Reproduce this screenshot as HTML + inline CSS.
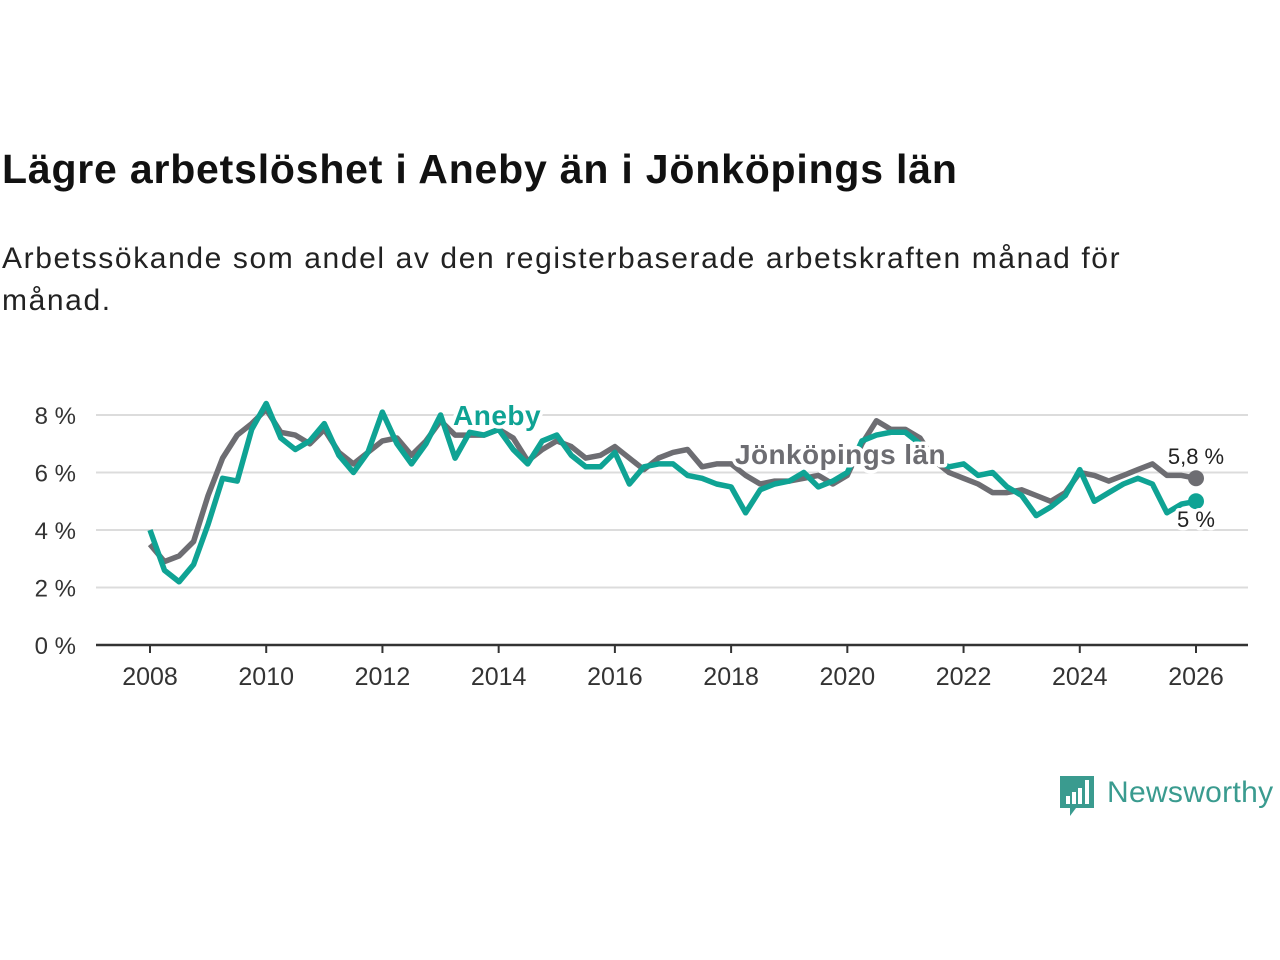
<!DOCTYPE html>
<html><head><meta charset="utf-8"><style>
body{margin:0;width:1280px;height:960px;background:#fff;font-family:"Liberation Sans",sans-serif;overflow:hidden;position:relative}
#title{position:absolute;left:2px;top:146px;font-size:41px;font-weight:bold;color:#111;letter-spacing:0.8px}
#sub{position:absolute;left:2px;top:238px;font-size:30px;line-height:42px;color:#222;width:1180px;letter-spacing:1.6px}
svg{position:absolute;left:0;top:0}
</style></head><body>
<div id="title">Lägre arbetslöshet i Aneby än i Jönköpings län</div>
<div id="sub">Arbetssökande som andel av den registerbaserade arbetskraften månad för månad.</div>
<svg id="chart" width="1280" height="960"></svg>
<script>
const yearTicks=[2008,2010,2012,2014,2016,2018,2020,2022,2024,2026];
const yTicks=[0,2,4,6,8];
const startYear=2008, step=0.25;
const jonkoping=[3.5,2.9,3.1,3.6,5.2,6.5,7.3,7.7,8.2,7.4,7.3,7.0,7.5,6.7,6.3,6.7,7.1,7.2,6.6,7.1,7.8,7.3,7.3,7.3,7.5,7.2,6.4,6.8,7.1,6.9,6.5,6.6,6.9,6.5,6.1,6.5,6.7,6.8,6.2,6.3,6.3,5.9,5.6,5.7,5.7,5.8,5.9,5.6,5.9,7.0,7.8,7.5,7.5,7.2,6.4,6.0,5.8,5.6,5.3,5.3,5.4,5.2,5.0,5.3,6.0,5.9,5.7,5.9,6.1,6.3,5.9,5.9,5.8];
const aneby=[4.0,2.6,2.2,2.8,4.2,5.8,5.7,7.5,8.4,7.2,6.8,7.1,7.7,6.6,6.0,6.7,8.1,7.0,6.3,7.0,8.0,6.5,7.4,7.3,7.5,6.8,6.3,7.1,7.3,6.6,6.2,6.2,6.7,5.6,6.2,6.3,6.3,5.9,5.8,5.6,5.5,4.6,5.4,5.6,5.7,6.0,5.5,5.7,6.0,7.1,7.3,7.4,7.4,7.0,6.4,6.2,6.3,5.9,6.0,5.5,5.2,4.5,4.8,5.2,6.1,5.0,5.3,5.6,5.8,5.6,4.6,4.9,5.0];
const NS="http://www.w3.org/2000/svg";
const svg=document.getElementById('chart');
const X=t=>150+(t-2008)*(1046/18);
const Y=v=>645-v*28.75;
function mk(tag,attrs){const e=document.createElementNS(NS,tag);for(const k in attrs)e.setAttribute(k,attrs[k]);svg.appendChild(e);return e;}
yTicks.forEach(v=>{
  if(v>0){const g=mk('line',{x1:96,x2:1248,y1:Y(v),y2:Y(v),stroke:'#dcdcdc','stroke-width':2});
  
  }
  const t=mk('text',{x:76,y:Y(v)+9,'text-anchor':'end','font-size':24,fill:'#333'});t.textContent=v+' %';
  
  
});
const ax=mk('line',{x1:96,x2:1248,y1:645,y2:645,stroke:'#333','stroke-width':2.5});


yearTicks.forEach(y=>{
  const tk=mk('line',{x1:X(y),x2:X(y),y1:645,y2:653,stroke:'#333','stroke-width':2});
  
  
  const t=mk('text',{x:X(y),y:685,'text-anchor':'middle','font-size':25,fill:'#333'});t.textContent=y;
  
  
});
function pts(a){return a.map((v,i)=>X(startYear+i*step).toFixed(1)+','+Y(v).toFixed(1)).join(' ');}
const lj=mk('polyline',{points:pts(jonkoping),fill:'none',stroke:'#6d6d72','stroke-width':5.5,'stroke-linejoin':'round'});


const la=mk('polyline',{points:pts(aneby),fill:'none',stroke:'#0fa394','stroke-width':5.5,'stroke-linejoin':'round'});


const lastI=aneby.length-1, lastX=X(startYear+lastI*step);
const dj=mk('circle',{cx:lastX,cy:Y(jonkoping[lastI]),r:8,fill:'#6d6d72'});


const da=mk('circle',{cx:lastX,cy:Y(aneby[lastI]),r:8,fill:'#0fa394'});


function lab(txt,x,y,fill,size,bold,anchor,name,ls){
  const t=mk('text',{x:x,y:y,'font-size':size,'font-weight':bold?'bold':'normal',fill:fill,stroke:'#fff','stroke-width':7,'paint-order':'stroke','stroke-linejoin':'round','text-anchor':anchor,'letter-spacing':ls||0});
  t.textContent=txt;
  
  
}
lab('Aneby',453,425,'#0fa394',28,true,'start','aneby-label',0.5);
lab('Jönköpings län',735,464,'#6d6d72',28,true,'start','jonkoping-label',0.4);
lab(String(jonkoping[lastI]).replace('.',',')+' %',lastX,464,'#222',22,false,'middle','jonkoping-end-value');
lab(String(aneby[lastI]).replace('.',',')+' %',lastX,527,'#222',22,false,'middle','aneby-end-value');
const lg=mk('g',{});


mk('path',{d:'M1060 776 h34 v32 h-18 l-6 8 v-8 h-10 z',fill:'#3a9b8f'});
[[1066,796,4],[1072,792,4],[1078,788,4],[1085,780,4]].forEach(b=>mk('rect',{x:b[0],y:b[1],width:b[2],height:804-b[1],fill:'#fff'}));
const lt=mk('text',{x:1107,y:802,'font-size':30,fill:'#3a9b8f','letter-spacing':0.3});lt.textContent='Newsworthy';


</script>
</body></html>
